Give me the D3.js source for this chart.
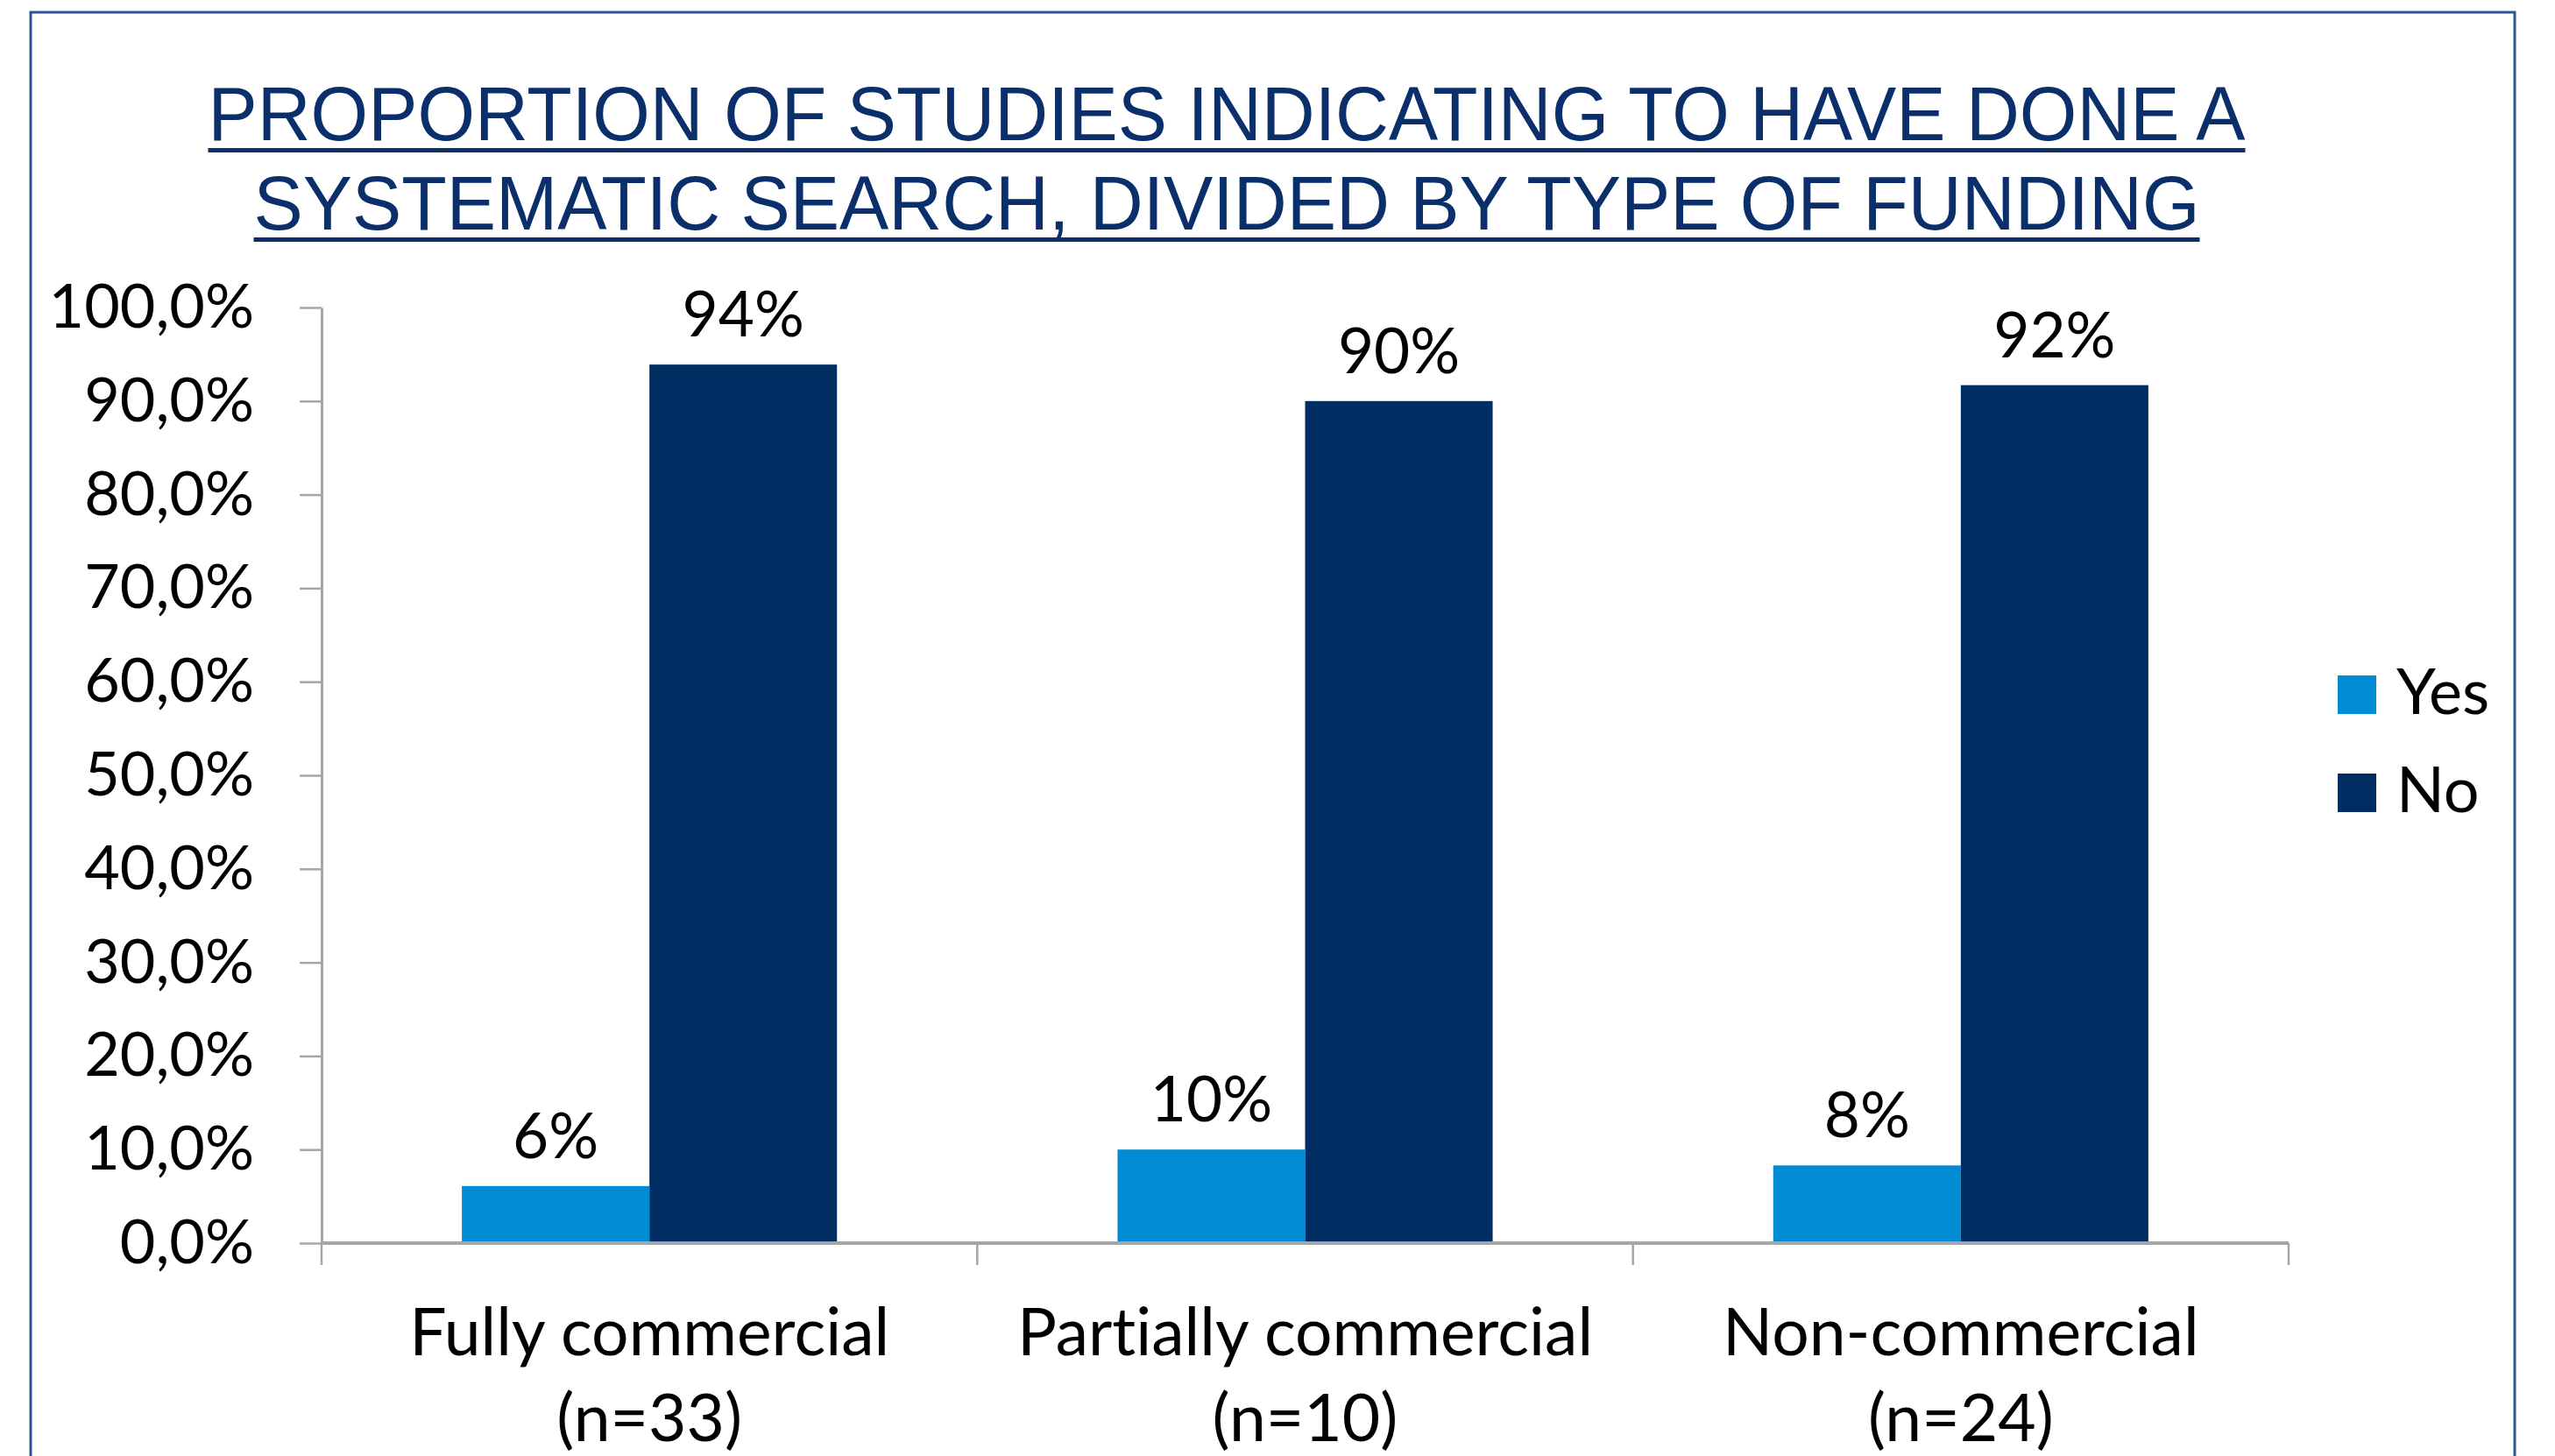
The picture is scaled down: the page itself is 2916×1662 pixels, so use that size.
<!DOCTYPE html>
<html>
<head>
<meta charset="utf-8">
<script src="https://cdn.jsdelivr.net/npm/d3@7"></script>
<style>
  html, body { margin: 0; padding: 0; background: #fff; }
  svg { display: block; }
  text { font-variant-ligatures: none; font-feature-settings: "liga" 0, "dlig" 0; }
</style>
</head>
<body>
<svg id="chart"></svg>
<script>
const width = 2916;
const height = 1662;

// data
const titleLines = ['PROPORTION OF STUDIES INDICATING TO HAVE DONE A', 'SYSTEMATIC SEARCH, DIVIDED BY TYPE OF FUNDING'];
const categories = ['Fully commercial', 'Partially commercial', 'Non-commercial'];
const sampleSizes = ['(n=33)', '(n=10)', '(n=24)'];
const seriesNames = ['Yes', 'No'];
const yesValues = [6.1, 10.0, 8.3];
const noValues = [93.9, 90.0, 91.7];
const yTickValues = [0, 10, 20, 30, 40, 50, 60, 70, 80, 90, 100];

const colors = { Yes: '#008bd2', No: '#002d62' };
const labelFont = 'Lato, "Open Sans", sans-serif';

const locale = d3.formatLocale({ decimal: ',', thousands: '.', grouping: [3], currency: ['', ''] });
const tickFmt = (d) => locale.format('.1f')(d) + '%';
const pctFmt = (d) => d3.format('.0f')(d) + '%';

const svg = d3.select('#chart').attr('width', width).attr('height', height);

// frame
svg.append('rect')
  .attr('x', 35).attr('y', 14)
  .attr('width', 2835).attr('height', 1700)
  .attr('fill', 'none')
  .attr('stroke', '#2f5496')
  .attr('stroke-width', 3);

// title
const titleLen = [2325, 2221];
titleLines.forEach((t, i) => {
  const base = 160 + i * 102;
  svg.append('text')
    .attr('x', 1400).attr('y', base)
    .attr('text-anchor', 'middle')
    .attr('textLength', titleLen[i])
    .attr('lengthAdjust', 'spacingAndGlyphs')
    .style('font-family', '"Liberation Sans", Arial, sans-serif')
    .style('font-size', '87px')
    .style('fill', '#0b2f6b')
    .text(t);
  svg.append('rect')
    .attr('x', 1400 - titleLen[i] / 2).attr('y', base + 9)
    .attr('width', titleLen[i]).attr('height', 5)
    .attr('fill', '#0b2f6b');
});

const x = d3.scaleBand().domain(categories).range([367, 2612]).paddingInner(0).paddingOuter(0);
const xSub = d3.scaleBand().domain(seriesNames).range([0, x.bandwidth()]).paddingInner(0).paddingOuter(0.748);
const y = d3.scaleLinear().domain([0, 100]).range([1419, 351]);

// y axis
const yAxis = svg.append('g')
  .attr('transform', 'translate(367,0)')
  .call(d3.axisLeft(y).tickValues(yTickValues).tickFormat(tickFmt).tickSize(25).tickSizeOuter(0).tickPadding(52));
yAxis.select('.domain').attr('stroke', '#a6a6a6').attr('stroke-width', 3);
yAxis.selectAll('.tick line').attr('stroke', '#a6a6a6').attr('stroke-width', 2.5);
yAxis.selectAll('.tick text')
  .style('font-family', labelFont)
  .style('font-size', '70px')
  .attr('fill', '#000');

// bars
const rows = categories.map((c, i) => ({ cat: c, Yes: yesValues[i], No: noValues[i] }));
const groups = svg.selectAll('g.grp')
  .data(rows)
  .enter()
  .append('g')
  .attr('class', 'grp')
  .attr('transform', (d) => 'translate(' + x(d.cat) + ',0)');

groups.selectAll('rect')
  .data((d) => seriesNames.map((s) => ({ key: s, value: d[s] })))
  .enter()
  .append('rect')
  .attr('x', (d) => xSub(d.key))
  .attr('width', xSub.bandwidth())
  .attr('y', (d) => y(d.value))
  .attr('height', (d) => y(0) - y(d.value))
  .attr('fill', (d) => colors[d.key]);

groups.selectAll('text.val')
  .data((d) => seriesNames.map((s) => ({ key: s, value: d[s] })))
  .enter()
  .append('text')
  .attr('class', 'val')
  .attr('x', (d) => xSub(d.key) + xSub.bandwidth() / 2)
  .attr('y', (d) => y(d.value) - 32)
  .attr('text-anchor', 'middle')
  .style('font-family', labelFont)
  .style('font-size', '71px')
  .text((d) => pctFmt(d.value));

// x axis
const xAxis = svg.append('g');
xAxis.append('line')
  .attr('x1', x.range()[0]).attr('x2', x.range()[1])
  .attr('y1', y(0)).attr('y2', y(0))
  .attr('stroke', '#a6a6a6').attr('stroke-width', 4);
xAxis.selectAll('line.tk')
  .data(categories.map((c) => x(c)).concat([x.range()[1]]))
  .enter()
  .append('line')
  .attr('class', 'tk')
  .attr('x1', (d) => d).attr('x2', (d) => d)
  .attr('y1', y(0)).attr('y2', y(0) + 25)
  .attr('stroke', '#a6a6a6').attr('stroke-width', 2.5);

const xl = xAxis.selectAll('text.cat')
  .data(categories)
  .enter()
  .append('text')
  .attr('class', 'cat')
  .attr('text-anchor', 'middle')
  .style('font-family', labelFont)
  .style('font-size', '75px');
xl.append('tspan')
  .attr('x', (d) => x(d) + x.bandwidth() / 2)
  .attr('y', 1547)
  .text((d) => d);
xl.append('tspan')
  .attr('x', (d) => x(d) + x.bandwidth() / 2)
  .attr('y', 1645)
  .text((d, i) => sampleSizes[i]);

// legend
const legend = svg.selectAll('g.leg')
  .data(seriesNames)
  .enter()
  .append('g')
  .attr('class', 'leg')
  .attr('transform', (d, i) => 'translate(2668,' + (771 + i * 112) + ')');
legend.append('rect')
  .attr('width', 44).attr('height', 44)
  .attr('fill', (d) => colors[d]);
legend.append('text')
  .attr('x', 67).attr('y', 44)
  .style('font-family', labelFont)
  .style('font-size', '72px')
  .text((d) => d);
</script>
</body>
</html>
